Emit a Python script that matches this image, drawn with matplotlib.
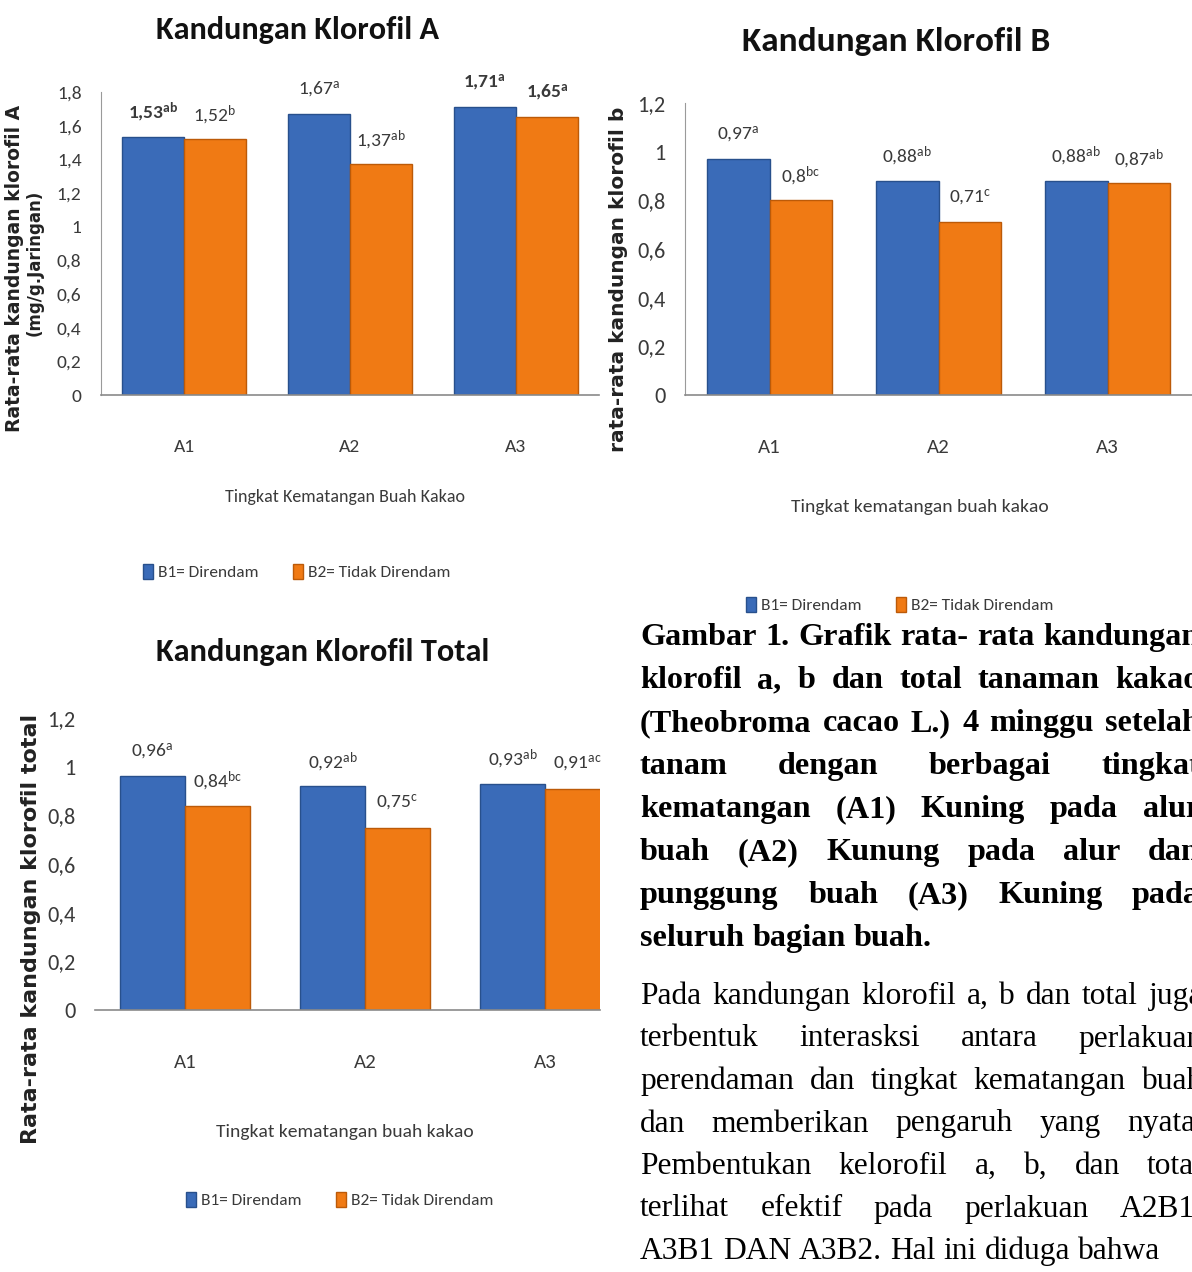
import matplotlib
matplotlib.use('Agg')
import matplotlib.pyplot as plt
from matplotlib import font_manager
from matplotlib.patches import Patch

# ---------------- data ----------------
categories = ['A1', 'A2', 'A3']
series_names = ['B1= Direndam', 'B2= Tidak Direndam']

a_b1 = [1.53, 1.67, 1.71]
a_b2 = [1.52, 1.37, 1.65]
a_b1_sup = ['ab', 'a', 'a']
a_b2_sup = ['b', 'ab', 'a']
a_yticks = [0, 0.2, 0.4, 0.6, 0.8, 1.0, 1.2, 1.4, 1.6, 1.8]

b_b1 = [0.97, 0.88, 0.88]
b_b2 = [0.80, 0.71, 0.87]
b_b1_sup = ['a', 'ab', 'ab']
b_b2_sup = ['bc', 'c', 'ab']
b_yticks = [0, 0.2, 0.4, 0.6, 0.8, 1.0, 1.2]

t_b1 = [0.96, 0.92, 0.93]
t_b2 = [0.84, 0.75, 0.91]
t_b1_sup = ['a', 'ab', 'ab']
t_b2_sup = ['bc', 'c', 'ac']
t_yticks = [0, 0.2, 0.4, 0.6, 0.8, 1.0, 1.2]

caption_lines = [
    "Gambar 1. Grafik rata- rata kandungan",
    "klorofil a, b dan total tanaman kakao",
    "(Theobroma cacao L.) 4 minggu setelah",
    "tanam dengan berbagai tingkat",
    "kematangan (A1) Kuning pada alur",
    "buah (A2) Kunung pada alur dan",
    "punggung buah (A3) Kuning pada",
    "seluruh bagian buah.",
]
para_lines = [
    "Pada kandungan klorofil a, b dan total juga",
    "terbentuk interasksi antara perlakuan",
    "perendaman dan tingkat kematangan buah",
    "dan memberikan pengaruh yang nyata.",
    "Pembentukan kelorofil a, b, dan total",
    "terlihat efektif pada perlakuan A2B1,",
    "A3B1 DAN A3B2. Hal ini diduga bahwa",
]

# ---------------- fonts ----------------
names = {f.name for f in font_manager.fontManager.ttflist}
def pick(*cands):
    for n in cands:
        if n in names:
            return n
    return 'DejaVu Sans'
NARROW = pick('Liberation Sans Narrow', 'Carlito', 'Lato', 'Open Sans')
SERIF = pick('Liberation Serif', 'DejaVu Serif')
plt.rcParams['font.family'] = [NARROW, 'DejaVu Sans']
plt.rcParams['mathtext.fontset'] = 'custom'
plt.rcParams['mathtext.rm'] = NARROW
plt.rcParams['mathtext.it'] = NARROW
plt.rcParams['mathtext.bf'] = NARROW + ':bold'
plt.rcParams['mathtext.default'] = 'regular'

BLUE = '#3A6BB8'
BLUE_E = '#28508C'
ORANGE = '#F07A14'
ORANGE_E = '#BC5A08'
TXT = '#3a3a3a'

W, H = 1192, 1272
fig = plt.figure(figsize=(W / 100, H / 100), dpi=100)
fig.patch.set_facecolor('white')


def ax_at(x0, x1, ytop, ybot):
    return fig.add_axes([x0 / W, 1 - ybot / H, (x1 - x0) / W, (ybot - ytop) / H])


def fmt(v):
    return f"{v:g}".replace('.', ',')


def draw_chart(ax, b1, b2, s1, s2, yticks, ylim_top, xmax, width,
               tick_size, cat_size, val_size, show_left=True, bold1=None, bold2=None):
    x = list(range(len(categories)))
    xb1 = [i - width / 2 for i in x]
    xb2 = [i + width / 2 for i in x]
    ax.bar(xb1, b1, width=width, color=BLUE, edgecolor=BLUE_E, linewidth=1.0, zorder=2)
    ax.bar(xb2, b2, width=width, color=ORANGE, edgecolor=ORANGE_E, linewidth=1.0, zorder=2)
    for vals, sups, xs, bolds in ((b1, s1, xb1, bold1), (b2, s2, xb2, bold2)):
        for j, (v, s, xx) in enumerate(zip(vals, sups, xs)):
            wgt = 'bold' if (bolds and bolds[j]) else 'normal'
            lab = fmt(v) + (r'$^{\mathbf{' + s + '}}$' if wgt == 'bold' else r'$^{' + s + '}$')
            ax.annotate(lab, (xx, v), xytext=(0, 18), textcoords='offset points',
                        ha='center', va='center', fontsize=val_size, color=TXT,
                        fontweight=wgt, annotation_clip=False)
    ax.set_xlim(-0.5, xmax)
    ax.set_ylim(0, ylim_top)
    ax.set_yticks(yticks)
    ax.set_yticklabels([fmt(t) for t in yticks])
    ax.set_xticks(x)
    ax.set_xticklabels(categories)
    ax.tick_params(axis='y', length=0, pad=14, labelsize=tick_size, colors=TXT)
    ax.tick_params(axis='x', length=0, pad=32, labelsize=cat_size, colors=TXT)
    for sp in ('top', 'right'):
        ax.spines[sp].set_visible(False)
    ax.spines['left'].set_visible(show_left)
    ax.spines['left'].set_color('#9a9a9a')
    ax.spines['bottom'].set_color('#8a8a8a')
    ax.spines['bottom'].set_linewidth(1.2)
    ax.set_facecolor('none')


def legend_at(cx, cy, size):
    handles = [Patch(facecolor=BLUE, edgecolor=BLUE_E), Patch(facecolor=ORANGE, edgecolor=ORANGE_E)]
    fig.legend(handles, series_names, loc='center', bbox_to_anchor=(cx / W, 1 - cy / H),
               ncol=2, frameon=False, fontsize=size, handlelength=0.55, handleheight=1.0,
               handletextpad=0.3, columnspacing=2.0, labelcolor=TXT)


# ---------- Chart A ----------
axA = ax_at(101, 599, 92, 395)
draw_chart(axA, a_b1, a_b2, a_b1_sup, a_b2_sup, a_yticks, 1.8, 2.5, 0.375,
           14, 14, 14, bold1=[True, False, True], bold2=[False, False, True])
fig.text(297 / W, 1 - 30 / H, 'Kandungan Klorofil A', ha='center', va='center', fontsize=23.2,
         fontweight='bold', color='#111111')
fig.text(15 / W, 1 - 268 / H, 'Rata-rata kandungan klorofil A', rotation=90, ha='center', va='center',
         fontsize=13.5, fontweight='bold', family='DejaVu Sans', color='#222222')
fig.text(35 / W, 1 - 263 / H, '(mg/g.Jaringan)', rotation=90, ha='center', va='center',
         fontsize=12, fontweight='bold', family='DejaVu Sans', color='#222222')
fig.text(345 / W, 1 - 497 / H, 'Tingkat Kematangan Buah Kakao', ha='center', va='center', fontsize=13, color=TXT)
legend_at(297, 572, 12.5)

# ---------- Chart B ----------
axB = ax_at(685, 1192, 103, 395)
draw_chart(axB, b_b1, b_b2, b_b1_sup, b_b2_sup, b_yticks, 1.2, 2.5, 0.37,
           16, 15, 14)
fig.text(896 / W, 1 - 42 / H, 'Kandungan Klorofil B', ha='center', va='center', fontsize=25.4,
         fontweight='bold', color='#111111')
fig.text(619 / W, 1 - 279 / H, 'rata-rata kandungan klorofil b', rotation=90, ha='center', va='center',
         fontsize=14.5, fontweight='bold', family='DejaVu Sans', color='#222222')
fig.text(920 / W, 1 - 507 / H, 'Tingkat kematangan buah kakao', ha='center', va='center', fontsize=14, color=TXT)
legend_at(900, 605, 12.5)

# ---------- Chart Total ----------
axT = ax_at(95, 600, 718, 1010)
draw_chart(axT, t_b1, t_b2, t_b1_sup, t_b2_sup, t_yticks, 1.2, 2.306, 0.36,
           16, 15, 14, show_left=False)
fig.text(323 / W, 1 - 652 / H, 'Kandungan Klorofil Total', ha='center', va='center', fontsize=23.3,
         fontweight='bold', color='#111111')
fig.text(31 / W, 1 - 929 / H, 'Rata-rata kandungan klorofil total', rotation=90, ha='center', va='center',
         fontsize=16, fontweight='bold', family='DejaVu Sans', color='#222222')
fig.text(345 / W, 1 - 1132 / H, 'Tingkat kematangan buah kakao', ha='center', va='center', fontsize=14, color=TXT)
legend_at(340, 1200, 12.5)

# ---------- justified text block ----------
renderer = fig.canvas.get_renderer()


def justify(lines, x0, x1, y0, dy, size, weight):
    def width(s):
        t = fig.text(0, 0, s, fontsize=size, fontweight=weight, family=SERIF)
        w = t.get_window_extent(renderer).width
        t.remove()
        return w
    space = width('a a') - width('aa')
    for i, line in enumerate(lines):
        y = y0 + i * dy
        words = line.split()
        ts = [fig.text(0, 1 - y / H, w, fontsize=size, fontweight=weight, family=SERIF,
                       ha='left', va='baseline', color='black') for w in words]
        ws = [t.get_window_extent(renderer).width for t in ts]
        if i == len(lines) - 1 or len(words) == 1:
            gap = space
        else:
            gap = (x1 - x0 - sum(ws)) / (len(words) - 1)
        x = x0
        for t, w in zip(ts, ws):
            t.set_x(x / W)
            x += w + gap


justify(caption_lines, 640, 1200, 645, 43, 23.2, 'bold')
justify(para_lines, 640, 1203, 1004, 42.5, 22.7, 'normal')

fig.savefig('out.png', dpi=100, facecolor='white')
